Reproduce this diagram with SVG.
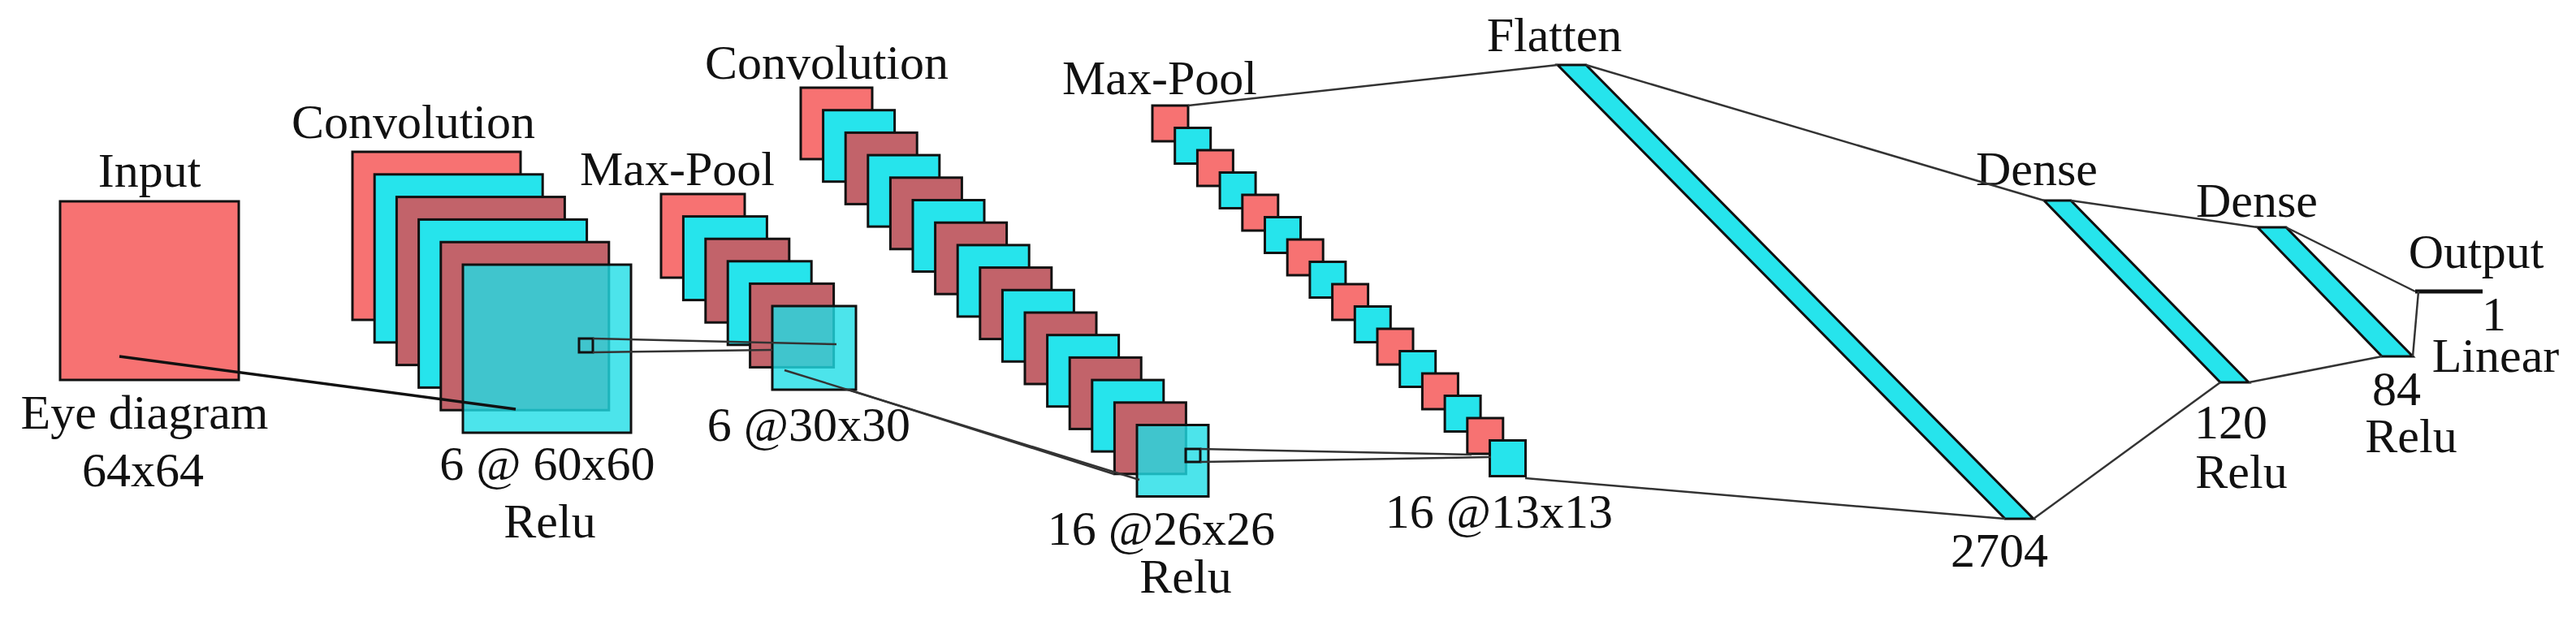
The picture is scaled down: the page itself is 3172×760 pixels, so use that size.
<svg xmlns="http://www.w3.org/2000/svg" width="3172" height="760" viewBox="0 0 3172 760">
<style>
.r{fill:#f77272;stroke:#111;stroke-width:3}
.c{fill:#26e4ec;stroke:#111;stroke-width:3}
.d{fill:#c2636a;stroke:#111;stroke-width:3}
.l{fill:#1fdde6;fill-opacity:0.8;stroke:#111;stroke-width:3}
.k{fill:none;stroke:#333;stroke-width:3}
.b{fill:#26e4ec;stroke:#111;stroke-width:3}
text{font-family:"Liberation Serif","Times New Roman",serif;font-size:60px;fill:#111;text-anchor:middle}
</style>
<rect width="3172" height="760" fill="#fff"/>
<g id="input">
<rect class="r" x="74" y="248" width="220" height="220"/>
<text x="184" y="230">Input</text>
<text x="178" y="528">Eye diagram</text>
<text x="176" y="599">64x64</text>
</g>
<g id="conv1">
<rect class="r" x="434" y="187" width="207" height="207"/>
<rect class="c" x="461.2" y="214.8" width="207" height="207"/>
<rect class="d" x="488.4" y="242.6" width="207" height="207"/>
<rect class="c" x="515.6" y="270.4" width="207" height="207"/>
<rect class="d" x="542.8" y="298.2" width="207" height="207"/>
<rect class="l" x="570" y="326" width="207" height="207"/>
<rect class="k" x="713" y="417" width="17" height="17" style="stroke:#111"/>
<text x="509" y="170">Convolution</text>
<text x="674" y="591">6 @ 60x60</text>
<text x="677" y="662">Relu</text>
</g>
<g id="pool1">
<rect class="r" x="814" y="239" width="103" height="103"/>
<rect class="c" x="841.4" y="266.6" width="103" height="103"/>
<rect class="d" x="868.8" y="294.2" width="103" height="103"/>
<rect class="c" x="896.2" y="321.8" width="103" height="103"/>
<rect class="d" x="923.6" y="349.4" width="103" height="103"/>
<rect class="l" x="951" y="377" width="103" height="103"/>
<text x="834" y="228">Max-Pool</text>
<text x="996" y="543">6 @30x30</text>
</g>
<g id="conv2">
<rect class="r" x="986" y="108" width="88" height="88"/>
<rect class="c" x="1013.6" y="135.7" width="88" height="88"/>
<rect class="d" x="1041.2" y="163.4" width="88" height="88"/>
<rect class="c" x="1068.8" y="191.1" width="88" height="88"/>
<rect class="d" x="1096.4" y="218.8" width="88" height="88"/>
<rect class="c" x="1124" y="246.5" width="88" height="88"/>
<rect class="d" x="1151.6" y="274.2" width="88" height="88"/>
<rect class="c" x="1179.2" y="301.9" width="88" height="88"/>
<rect class="d" x="1206.8" y="329.6" width="88" height="88"/>
<rect class="c" x="1234.4" y="357.3" width="88" height="88"/>
<rect class="d" x="1262" y="385" width="88" height="88"/>
<rect class="c" x="1289.6" y="412.7" width="88" height="88"/>
<rect class="d" x="1317.2" y="440.4" width="88" height="88"/>
<rect class="c" x="1344.8" y="468.1" width="88" height="88"/>
<rect class="d" x="1372.4" y="495.8" width="88" height="88"/>
<rect class="l" x="1400" y="523.5" width="88" height="88"/>
<rect class="k" x="1460" y="553" width="18" height="16" style="stroke:#111"/>
<text x="1018" y="97">Convolution</text>
<text x="1430" y="671">16 @26x26</text>
<text x="1460" y="730">Relu</text>
</g>
<g id="pool2">
<rect class="r" x="1419" y="130" width="44" height="44"/>
<rect class="c" x="1446.7" y="157.5" width="44" height="44"/>
<rect class="r" x="1474.4" y="185" width="44" height="44"/>
<rect class="c" x="1502.1" y="212.5" width="44" height="44"/>
<rect class="r" x="1529.8" y="240" width="44" height="44"/>
<rect class="c" x="1557.5" y="267.5" width="44" height="44"/>
<rect class="r" x="1585.2" y="295" width="44" height="44"/>
<rect class="c" x="1612.9" y="322.5" width="44" height="44"/>
<rect class="r" x="1640.6" y="350" width="44" height="44"/>
<rect class="c" x="1668.3" y="377.5" width="44" height="44"/>
<rect class="r" x="1696" y="405" width="44" height="44"/>
<rect class="c" x="1723.7" y="432.5" width="44" height="44"/>
<rect class="r" x="1751.4" y="460" width="44" height="44"/>
<rect class="c" x="1779.1" y="487.5" width="44" height="44"/>
<rect class="r" x="1806.8" y="515" width="44" height="44"/>
<rect class="c" x="1834.5" y="542.5" width="44" height="44"/>
<text x="1428" y="116">Max-Pool</text>
<text x="1846" y="650">16 @13x13</text>
</g>
<g id="flatten">
<polygon class="b" points="1918,80 1953,80 2504,639 2469,639"/>
<text x="1914" y="63">Flatten</text>
<text x="2462" y="698">2704</text>
</g>
<g id="dense1">
<polygon class="b" points="2517,247 2550,247 2769,471 2734,471"/>
<text x="2508" y="228">Dense</text>
<text x="2747" y="540">120</text>
<text x="2760" y="601">Relu</text>
</g>
<g id="dense2">
<polygon class="b" points="2780,280 2815,280 2971,439 2933,439"/>
<text x="2779" y="267">Dense</text>
<text x="2951" y="499">84</text>
<text x="2969" y="557">Relu</text>
</g>
<g id="output">
<line x1="2974" y1="359" x2="3057" y2="359" stroke="#111" stroke-width="5"/>
<text x="3049" y="330">Output</text>
<text x="3071" y="407">1</text>
<text x="3073" y="458">Linear</text>
</g>
<g id="connectors" stroke="#333" stroke-width="2.5" fill="none">
<line x1="147" y1="439" x2="635" y2="504" stroke="#111" stroke-width="3.5"/>
<line x1="730" y1="417" x2="1030" y2="424"/>
<line x1="730" y1="434" x2="951" y2="431"/>
<line x1="966" y1="456" x2="1403" y2="591"/>
<line x1="1045" y1="480" x2="1372" y2="584"/>
<line x1="1478" y1="553" x2="1812" y2="560"/>
<line x1="1478" y1="569" x2="1836" y2="563"/>
<line x1="1463" y1="130" x2="1918" y2="80"/>
<line x1="1878" y1="589" x2="2469" y2="639"/>
<line x1="1953" y1="80" x2="2517" y2="247"/>
<line x1="2504" y1="639" x2="2734" y2="471"/>
<line x1="2550" y1="247" x2="2780" y2="280"/>
<line x1="2769" y1="471" x2="2933" y2="439"/>
<line x1="2815" y1="280" x2="2974" y2="359"/>
<line x1="2971" y1="439" x2="2978" y2="359"/>
</g>
</svg>
